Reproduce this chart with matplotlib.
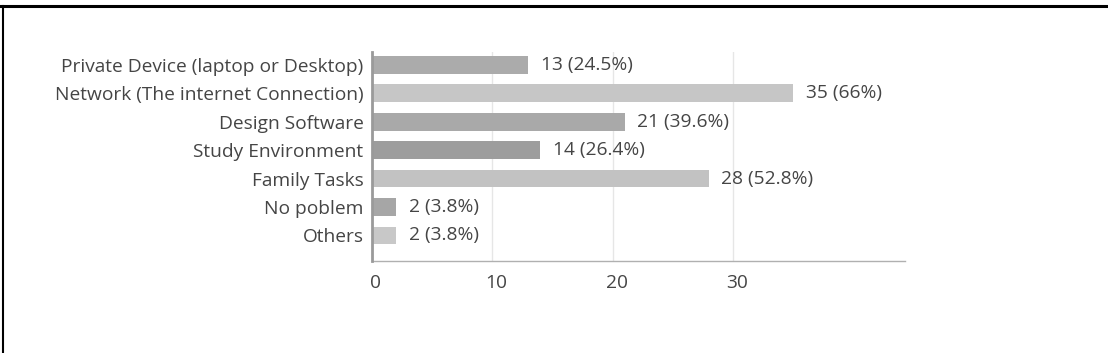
import matplotlib.pyplot as plt
import matplotlib.transforms as mtransforms
from matplotlib.lines import Line2D

categories = [
    "Private Device (laptop or Desktop)",
    "Network (The internet Connection)",
    "Design Software",
    "Study Environment",
    "Family Tasks",
    "No poblem",
    "Others",
]
counts = [13, 35, 21, 14, 28, 2, 2]
percents = ["24.5%", "66%", "39.6%", "26.4%", "52.8%", "3.8%", "3.8%"]
bar_colors = ["#ababab", "#c6c6c6", "#a9a9a9", "#9d9d9d", "#c2c2c2", "#a6a6a6", "#c8c8c8"]
x_ticks = [0, 10, 20, 30]

plt.rcParams["font.family"] = ["Open Sans", "DejaVu Sans"]
text_color = "#454545"
fs = 13.8

fig = plt.figure(figsize=(11.08, 3.53), dpi=100)
ax = fig.add_axes([0.3357, 0.2606, 0.4811, 0.592])

y = list(range(len(categories)))
ax.barh(y, counts, height=0.62, color=bar_colors, zorder=2)

for yi, c, p in zip(y, counts, percents):
    ax.annotate(f"{c} ({p})", (c, yi), xytext=(9, 0), textcoords="offset points",
                va="center", ha="left", fontsize=fs, color=text_color)

ax.set_xlim(0, 44.3)
ax.set_ylim(6.9, -0.45)
ax.set_yticks(y)
ax.set_yticklabels(categories, fontsize=fs, color=text_color)
ax.set_xticks(x_ticks)
ax.set_xticklabels([str(t) for t in x_ticks], fontsize=fs, color=text_color)
ax.tick_params(axis="both", length=0)
ax.tick_params(axis="x", pad=9)
ax.tick_params(axis="y", pad=6)

# nudge the x tick labels a little to the right, as in the original
shift = mtransforms.ScaledTranslation(4 / 100, 0, fig.dpi_scale_trans)
for lbl in ax.get_xticklabels():
    lbl.set_transform(lbl.get_transform() + shift)

ax.grid(axis="x", color="#e6e6e6", linewidth=1, zorder=0)
for side in ["top", "right"]:
    ax.spines[side].set_visible(False)
ax.spines["left"].set_color("#9a9a9a")
ax.spines["left"].set_linewidth(2)
ax.spines["left"].set_zorder(3)
ax.spines["bottom"].set_color("#b0b0b0")
ax.spines["bottom"].set_linewidth(1)

# frame lines at top and left of the picture
fig.add_artist(Line2D([0, 1], [0.983, 0.983], transform=fig.transFigure, color="black", linewidth=2.2))
fig.add_artist(Line2D([0.0025, 0.0025], [0, 0.983], transform=fig.transFigure, color="black", linewidth=1.5))

fig.savefig("out.png", dpi=100)
